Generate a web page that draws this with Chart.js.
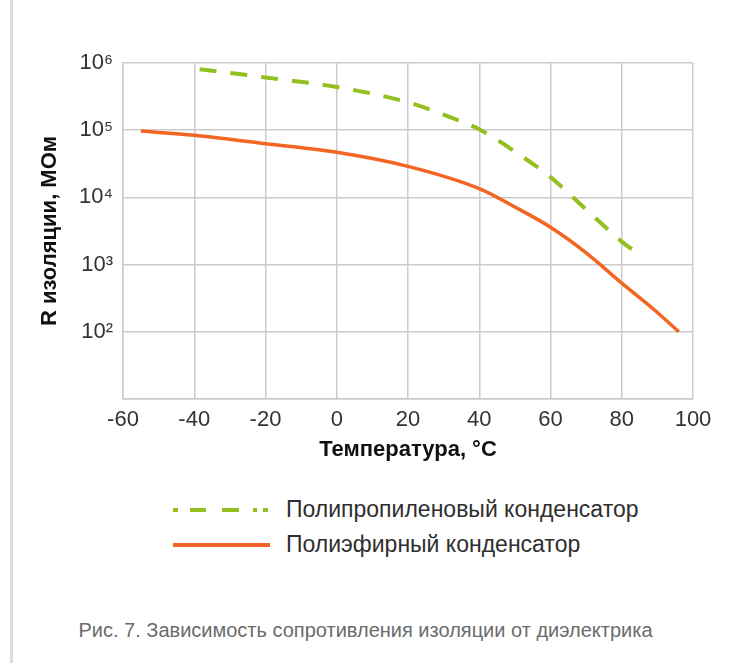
<!DOCTYPE html>
<html lang="ru">
<head>
<meta charset="utf-8">
<title>Сопротивление изоляции</title>
<script src="https://cdn.jsdelivr.net/npm/chart.js@4.4.1/dist/chart.umd.min.js"></script>
<style>
  html, body { margin: 0; padding: 0; background: #fff; }
  body { width: 731px; height: 663px; position: relative; overflow: hidden;
         font-family: "Liberation Sans", Arial, Helvetica, sans-serif; }
  .rule { position: absolute; left: 10px; top: 0; width: 3px; height: 663px; background: #dcdcdc; }
  #wrap { position: absolute; left: 0; top: 0; width: 731px; height: 470px; }
  .legend { position: absolute; left: 173px; top: 492px; }
  .legend .row { display: flex; align-items: center; height: 35px; }
  .legend svg { width: 97px; height: 8px; margin-right: 16px; }
  .legend span { font-size: 23px; color: #2e2e2e; white-space: nowrap; }
  .caption { position: absolute; left: 0; width: 731px; top: 619px; text-align: center;
             font-size: 20px; color: #6b6b6b; }
</style>
</head>
<body>
<div class="rule"></div>
<div id="wrap"><canvas id="chart" width="731" height="470"></canvas></div>

<div class="legend">
  <div class="row">
    <svg viewBox="0 0 97 8"><line x1="0" y1="4" x2="97" y2="4" stroke="#93c01f" stroke-width="4" stroke-dasharray="5 12 16 16 17 14 4 6 5 2"/></svg>
    <span id="lg0"></span>
  </div>
  <div class="row">
    <svg viewBox="0 0 97 8"><line x1="0" y1="4" x2="97" y2="4" stroke="#f26522" stroke-width="4"/></svg>
    <span id="lg1"></span>
  </div>
</div>
<div class="caption">Рис. 7. Зависимость сопротивления изоляции от диэлектрика</div>

<script>
// Series names
const seriesNames = ['Полипропиленовый конденсатор', 'Полиэфирный конденсатор'];

// Polypropylene capacitor: temperature (°C) and insulation resistance (MΩ)
const ppTemp = [-38.5, -20, 0, 20, 30, 40, 50, 60, 70, 80, 85];
const ppR    = [8.1e5, 6.1e5, 4.4e5, 2.6e5, 1.7e5, 1.03e5, 4.8e4, 2.0e4, 6.6e3, 2.2e3, 1.4e3];

// Polyester capacitor
const peTemp = [-55, -40, -20, 0, 20, 40, 50, 60, 70, 80, 90, 96];
const peR    = [9.7e4, 8.4e4, 6.3e4, 4.7e4, 2.9e4, 1.35e4, 7.2e3, 3.6e3, 1.5e3, 530, 194, 100];

// Axis ticks
const xTicks = [-60, -40, -20, 0, 20, 40, 60, 80, 100];
const yTicks = [1e1, 1e2, 1e3, 1e4, 1e5, 1e6];
const yLabeled = [1e2, 1e3, 1e4, 1e5, 1e6];

const axisTitles = { x: 'Температура, °С', y: 'R изоляции, МОм' };

document.getElementById('lg0').textContent = seriesNames[0];
document.getElementById('lg1').textContent = seriesNames[1];

const sup = { '0': '⁰', '1': '¹', '2': '²', '3': '³', '4': '⁴', '5': '⁵', '6': '⁶', '7': '⁷', '8': '⁸', '9': '⁹' };
function powerLabel(v) {
  const e = Math.round(Math.log10(v));
  return '10' + String(e).split('').map(c => sup[c]).join('');
}

const pts = (xs, ys) => xs.map((x, i) => ({ x, y: ys[i] }));
const FONT = '"Liberation Sans", Arial, Helvetica, sans-serif';
const GRID = '#cbcbcb';

new Chart(document.getElementById('chart'), {
  type: 'line',
  data: {
    datasets: [
      {
        label: seriesNames[0],
        data: pts(ppTemp, ppR),
        borderColor: '#93c01f',
        borderWidth: 4,
        borderDash: [17, 14],
        pointRadius: 0,
        cubicInterpolationMode: 'monotone',
        fill: false
      },
      {
        label: seriesNames[1],
        data: pts(peTemp, peR),
        borderColor: '#f26522',
        borderWidth: 3.5,
        pointRadius: 0,
        cubicInterpolationMode: 'monotone',
        fill: false
      }
    ]
  },
  options: {
    responsive: false,
    animation: false,
    events: [],
    layout: { padding: { top: 63, right: 38, bottom: 0, left: 0 } },
    plugins: { legend: { display: false }, tooltip: { enabled: false } },
    scales: {
      x: {
        type: 'linear',
        min: -60,
        max: 100,
        afterBuildTicks: s => { s.ticks = xTicks.map(v => ({ value: v })); },
        afterFit: s => { s.height = 71; },
        grid: { color: GRID, lineWidth: 1.5, drawTicks: false },
        border: { color: GRID, width: 1.5 },
        ticks: { padding: 8, color: '#333', font: { family: FONT, size: 22 } },
        title: {
          display: true,
          text: axisTitles.x,
          color: '#111',
          font: { family: FONT, size: 22, weight: 'bold' },
          padding: { top: 0, bottom: 7 }
        }
      },
      y: {
        type: 'logarithmic',
        min: 10,
        max: 1e6,
        afterBuildTicks: s => { s.ticks = yTicks.map(v => ({ value: v })); },
        afterFit: s => { s.width = 123; },
        grid: { color: GRID, lineWidth: 1.5, drawTicks: false },
        border: { color: GRID, width: 1.5 },
        ticks: {
          padding: 10,
          color: '#333',
          font: { family: FONT, size: 22 },
          callback: v => (yLabeled.includes(v) ? powerLabel(v) : '')
        },
        title: {
          display: true,
          text: axisTitles.y,
          color: '#111',
          font: { family: FONT, size: 22, weight: 'bold' },
          padding: { top: 37, bottom: 0 }
        }
      }
    }
  }
});
</script>
</body>
</html>
